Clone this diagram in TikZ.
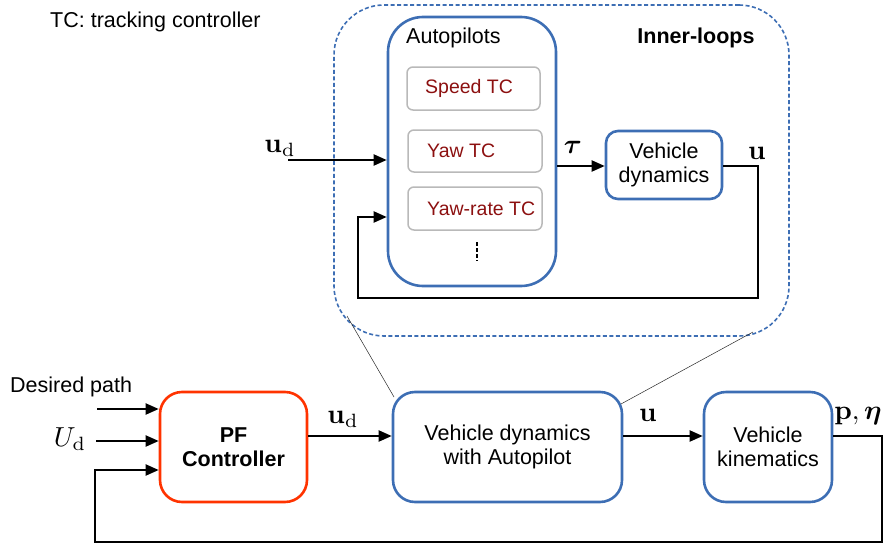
\documentclass[tikz,border=0pt]{standalone}
\usepackage{graphicx}
\usepackage{amsmath,bm}
\usepackage[no-math]{fontspec}
\setmainfont{Liberation Sans}
\usetikzlibrary{arrows.meta}
\definecolor{bblue}{RGB}{61,110,180}
\definecolor{rred}{RGB}{255,51,0}
\definecolor{dred}{RGB}{140,16,16}
\definecolor{lgray}{RGB}{185,185,185}
\newcommand{\bigmath}[1]{\scalebox{2.75}{$#1$}}
\tikzset{
  base/.style={inner sep=0pt, align=center, font=\fontsize{21.5}{24}\selectfont},
  bluebox/.style={base, draw=bblue, line width=2.6pt, rounded corners=22pt},
  redbox/.style={base, draw=rred, line width=2.6pt, rounded corners=22pt},
  tcbox/.style={base, draw=lgray, line width=1.5pt, rounded corners=6pt, text=dred, font=\fontsize{19.5}{22}\selectfont},
  tctext/.style={base, text=dred, font=\fontsize{19.5}{22}\selectfont},
  dashbox/.style={draw=bblue, line width=1.6pt, dash pattern=on 4pt off 2.5pt, rounded corners=50pt, inner sep=0pt},
  conn/.style={line width=2pt, -{Triangle[length=13pt,width=11pt]}},
  thinline/.style={line width=0.5pt, draw=black!85},
  lbl/.style={base},
  mlbl/.style={inner sep=0pt, font=\fontsize{10}{12}\selectfont},
}
\begin{document}
\begin{tikzpicture}[x=1pt,y=-1pt]
\path[use as bounding box] (0,0) rectangle (891,546);
% inner loops region
\node[dashbox, minimum width=455, minimum height=331] (inner) at (561.5,170.5) {};
\node[bluebox, rounded corners=35pt, minimum width=168, minimum height=269] (ap) at (472,151.5) {};
\node[lbl, anchor=west] (aptxt) at (406,38) {Autopilots};
\node[lbl, font=\fontsize{21.5}{24}\selectfont\bfseries] (ilt) at (696,38) {Inner-loops};
\node[lbl, anchor=west] (tc) at (50,22) {TC: tracking controller};
\node[tcbox, minimum width=133, minimum height=43] (speed) at (473.5,88.5) {};
\node[tctext, anchor=west] (speedt) at (425,88.5) {Speed TC};
\node[tcbox, minimum width=134, minimum height=42] (yaw) at (475,151) {};
\node[tctext, anchor=west] (yawt) at (427,151) {Yaw TC};
\node[tcbox, minimum width=134, minimum height=43] (yawrate) at (475,208.5) {};
\node[tctext, anchor=west] (yawratet) at (427,208.5) {Yaw-rate TC};
\draw[line width=1.3pt, dash pattern=on 4pt off 2pt] (477,242) -- (477,261);
\node[bluebox, rounded corners=12pt, minimum width=116, minimum height=68] (vd) at (664,165) {Vehicle\\dynamics};
\node[mlbl] (tau) at (573,147) {\bigmath{\bm{\tau}}};
\node[mlbl] (uin) at (757,153) {\bigmath{\mathbf{u}}};
\node[mlbl] (udin) at (280,148) {\bigmath{\mathbf{u}_{\mathrm{d}}}};
\coordinate (udstart) at (288,160);
\draw[conn] (udstart) -- (udstart -| ap.west);
\draw[conn] (ap.east |- 0,166) -- (vd.west |- 0,166);
\coordinate (fbA) at (758,166);
\coordinate (fbB) at (758,298);
\coordinate (fbC) at (358,298);
\coordinate (fbD) at (358,217);
\draw[conn] (vd.east |- fbA) -- (fbA) -- (fbB) -- (fbC) -- (fbD) -- (fbD -| ap.west);
% bottom loop
\node[redbox, minimum width=147, minimum height=110, font=\fontsize{21.5}{24}\selectfont\bfseries] (pf) at (233.5,447) {PF\\Controller};
\node[bluebox, minimum width=229, minimum height=110] (vda) at (507.5,447) {Vehicle dynamics\\with Autopilot};
\node[bluebox, minimum width=128, minimum height=110] (kin) at (768,447) {Vehicle\\kinematics};
\node[lbl, anchor=west] (dp) at (10,387) {Desired path};
\node[mlbl] (Ud) at (70,439) {\bigmath{U_{\mathrm{d}}}};
\node[mlbl] (udlow) at (343,419) {\bigmath{\mathbf{u}_{\mathrm{d}}}};
\node[mlbl] (ulow) at (648,415) {\bigmath{\mathbf{u}}};
\node[mlbl] (peta) at (858,416) {\bigmath{\mathbf{p},\bm{\eta}}};
\coordinate (dpstart) at (97,409);
\coordinate (udlstart) at (96,441);
\draw[conn] (dpstart) -- (dpstart -| pf.west);
\draw[conn] (udlstart) -- (udlstart -| pf.west);
\draw[conn] (pf.east |- 0,436) -- (vda.west |- 0,436);
\draw[conn] (vda.east |- 0,436) -- (kin.west |- 0,436);
\coordinate (oA) at (882,436);
\coordinate (oB) at (882,542);
\coordinate (oC) at (95,542);
\coordinate (oD) at (95,470);
\draw[conn] (kin.east |- oA) -- (oA) -- (oB) -- (oC) -- (oD) -- (oD -| pf.west);
% zoom lines
\coordinate (zl) at (347,316);
\coordinate (zr) at (753,332);
\coordinate (zlb) at (394,397);
\coordinate (zrb) at (621,404);
\draw[thinline] (zl) -- (zlb);
\draw[thinline] (zr) -- (zrb);
\end{tikzpicture}
\end{document}
